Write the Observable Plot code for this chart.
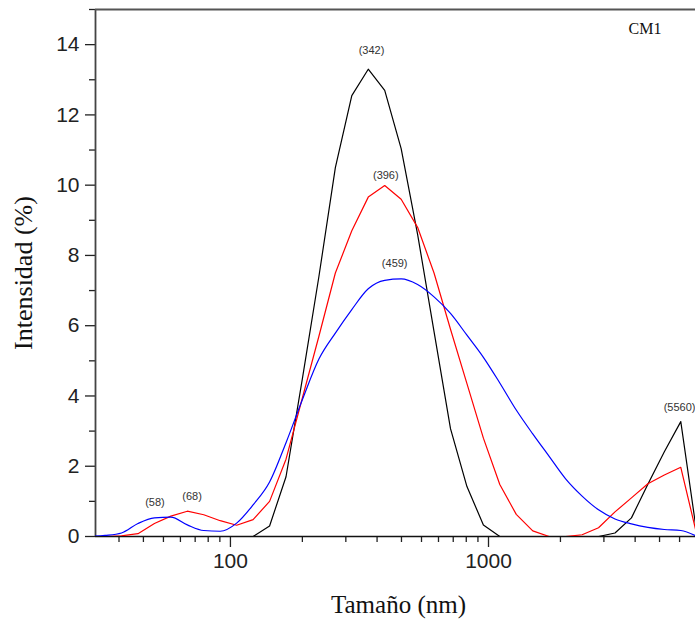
<!DOCTYPE html>
<html>
<head>
<meta charset="utf-8">
<script src="https://cdn.jsdelivr.net/npm/d3@7"></script>
<script src="https://cdn.jsdelivr.net/npm/@observablehq/plot@0.6"></script>
<style>
  html, body { margin: 0; padding: 0; background: #fff; }
  #chart { width: 695px; height: 621px; }
</style>
</head>
<body>
<div id="chart"></div>
<script>
// Size bins (nm)
const sizes = [28.21, 32.67, 37.84, 43.82, 50.75, 58.77, 68.06, 78.82, 91.28, 105.7,
  122.4, 141.8, 164.2, 190.1, 220.2, 255.0, 295.3, 342.0, 396.1, 458.7,
  531.2, 615.1, 712.4, 825.0, 955.4, 1106, 1281, 1484, 1718, 1990,
  2305, 2669, 3091, 3580, 4145, 4801, 5560, 6439];

// Intensity (%) series
const blackSeries = [0, 0, 0, 0, 0, 0, 0, 0, 0, 0,
  0, 0.3, 1.7, 4.5, 7.4, 10.5, 12.55, 13.3, 12.7, 11.04,
  8.6, 5.83, 3.07, 1.42, 0.33, 0, 0, 0, 0, 0,
  0, 0, 0.1, 0.53, 1.49, 2.41, 3.27, 0];
const redSeries = [0, 0, 0.02, 0.08, 0.37, 0.58, 0.72, 0.62, 0.45, 0.32,
  0.48, 1.0, 2.2, 3.95, 5.7, 7.5, 8.7, 9.66, 9.99, 9.6,
  8.8, 7.5, 5.9, 4.35, 2.8, 1.48, 0.63, 0.16, 0, 0,
  0.05, 0.25, 0.7, 1.1, 1.5, 1.75, 1.97, 0];
const blueSeries = [0, 0.03, 0.1, 0.37, 0.53, 0.55, 0.33, 0.17, 0.15, 0.38,
  0.9, 1.55, 2.67, 3.9, 5.05, 5.79, 6.46, 7.05, 7.29, 7.33,
  7.17, 6.82, 6.35, 5.73, 5.1, 4.37, 3.6, 2.92, 2.28, 1.64,
  1.15, 0.76, 0.5, 0.36, 0.26, 0.2, 0.17, 0];

// Peak labels
const peakLabels = ["(342)", "(396)", "(459)", "(58)", "(68)", "(5560)"];
const peakX = [352, 400, 433, 51, 71, 5500];
const peakY = [13.83, 10.28, 7.76, 0.97, 1.14, 3.68];

// Ticks
const yMajor = [0, 2, 4, 6, 8, 10, 12, 14];
const yMinor = [1, 3, 5, 7, 9, 11, 13, 15];
const xMajor = [100, 1000];
const xMinor = [37, 46, 55, 64, 73, 82, 91, 190, 280, 370, 460, 550, 640, 730, 820, 910,
  1900, 2800, 3700, 4600, 5500];

const mk = (arr) => sizes.map((s, i) => ({s, v: arr[i]}));
const peaks = peakLabels.map((t, i) => ({t, x: peakX[i], y: peakY[i]}));
const serif = "'Liberation Serif', 'Times New Roman', serif";

const chart = Plot.plot({
  width: 695,
  height: 621,
  marginLeft: 95,
  marginRight: 0,
  marginTop: 9,
  marginBottom: 85,
  x: {type: "log", domain: [30, 6340]},
  y: {domain: [0, 15]},
  style: {fontFamily: "'Liberation Sans', Arial, sans-serif", background: "#fff", color: "#222"},
  marks: [
    Plot.axisY({ticks: yMajor, tickSize: 10, tickPadding: 6, fontSize: 21, tickFormat: d => String(d), label: null, strokeWidth: 1.3, color: "#222"}),
    Plot.axisY({ticks: yMinor, tickSize: 6, tickFormat: () => "", label: null, strokeWidth: 1.3, color: "#222"}),
    Plot.axisX({ticks: xMajor, tickSize: 11, tickPadding: 6, fontSize: 21, tickFormat: d => String(d), label: null, strokeWidth: 1.3, color: "#222"}),
    Plot.axisX({ticks: xMinor, tickSize: 6, tickFormat: () => "", label: null, strokeWidth: 1.3, color: "#222"}),
    Plot.ruleX([30], {stroke: "#444", strokeWidth: 1.8}),
    Plot.ruleY([15], {stroke: "#555", strokeWidth: 1.8}),
    Plot.ruleY([0], {stroke: "#111", strokeWidth: 1.6}),
    Plot.line(mk(blackSeries), {x: "s", y: "v", stroke: "#000", strokeWidth: 1.2, clip: true}),
    Plot.line(mk(redSeries), {x: "s", y: "v", stroke: "#ff0000", strokeWidth: 1.2, clip: true}),
    Plot.line(mk(blueSeries), {x: "s", y: "v", stroke: "#0000ff", strokeWidth: 1.2, curve: "monotone-x", clip: true}),
    Plot.text(peaks, {x: "x", y: "y", text: "t", fontSize: 11, fill: "#333", lineAnchor: "middle"}),
    Plot.text(["CM1"], {frameAnchor: "top-right", dx: -34, dy: 13, fontSize: 16, fontFamily: serif, fill: "#111"}),
    Plot.text(["Tamaño (nm)"], {frameAnchor: "bottom", dx: 3, dy: 68, lineAnchor: "middle", fontSize: 25, fontFamily: serif, fill: "#111"}),
    Plot.text(["Intensidad (%)"], {frameAnchor: "left", dx: -72, rotate: -90, textAnchor: "middle", lineAnchor: "middle", fontSize: 26, fontFamily: serif, fill: "#111"})
  ]
});
document.getElementById("chart").appendChild(chart);
</script>
</body>
</html>
